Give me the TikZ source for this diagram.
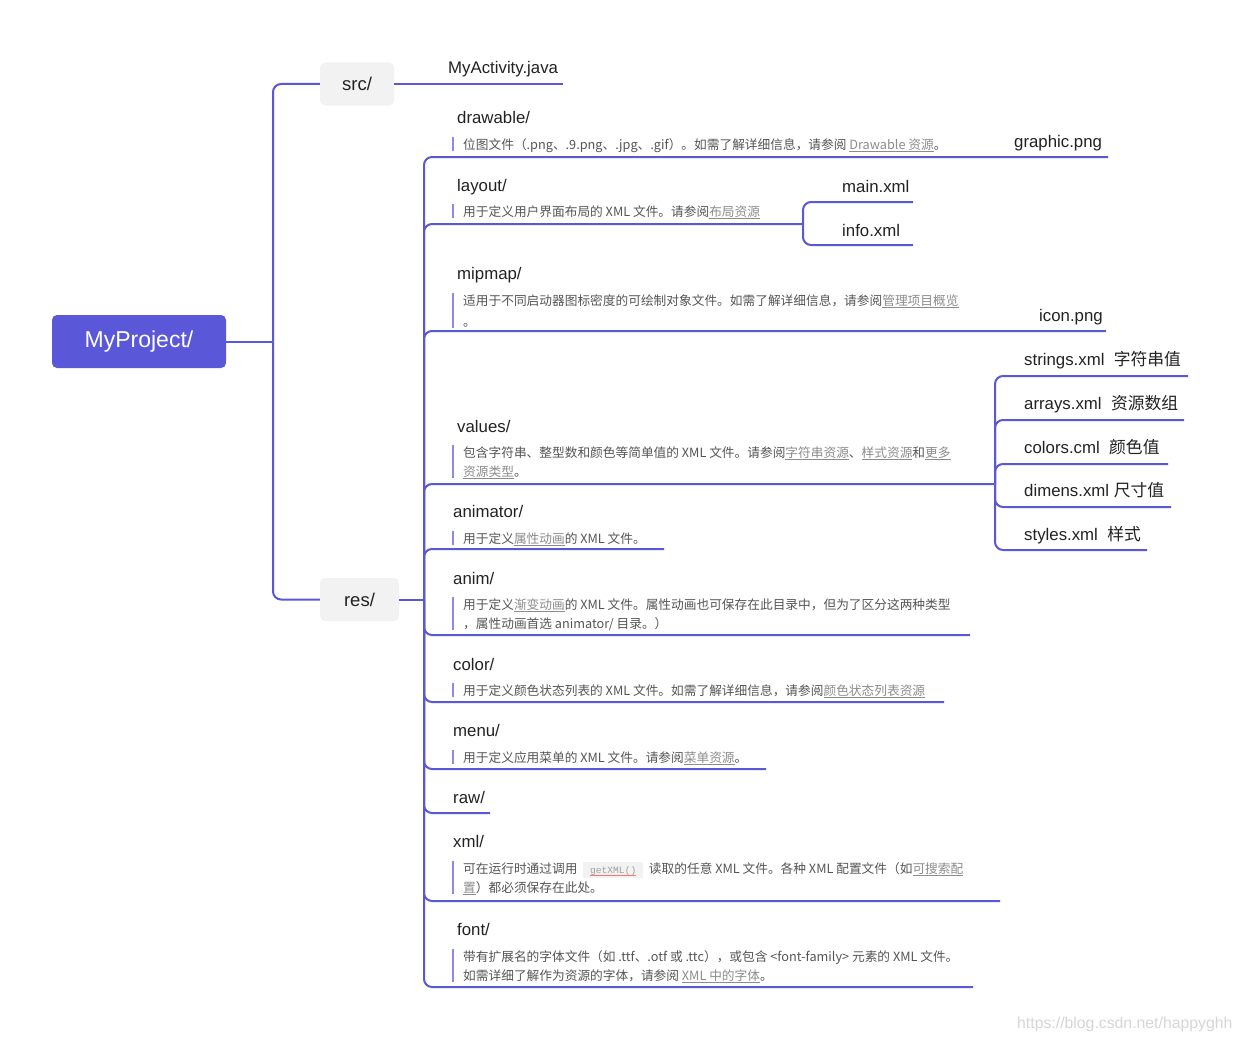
\documentclass[tikz,border=0pt]{standalone}
\usepackage{fontspec}
\setmainfont{Liberation Sans}
\newfontfamily\cjk{Noto Sans CJK SC}
\newfontfamily\mono{Liberation Mono}
\definecolor{brand}{HTML}{5A57D8}
\definecolor{ink}{HTML}{222222}
\definecolor{notegray}{HTML}{555555}
\definecolor{linkgray}{HTML}{8C8C8C}
\definecolor{barpurple}{HTML}{8D8BE6}
\definecolor{boxgray}{HTML}{F2F2F2}
\definecolor{codebg}{HTML}{F2F2F2}
\definecolor{codegray}{HTML}{A0A0A0}
\definecolor{wm}{HTML}{D6D6D6}
\newcommand\fsz[1]{\fontsize{#1}{#1}\selectfont}
\newcommand\lk[1]{{\color{linkgray}\setbox0\hbox{#1}\rlap{\rule[-2.6pt]{\wd0}{0.6pt}}\box0}}
\newcommand\codebox[1]{{\setlength\fboxsep{0pt}\colorbox{codebg}{\hspace{7pt}\rule[-4.5pt]{0pt}{16pt}{\mono\fsz{9.6}\setbox0\hbox{\color{codegray}#1}\rlap{\color{red!55}\rule[-2pt]{\wd0}{0.5pt}}\box0}\hspace{7pt}}}}
\tikzset{
  ttl/.style={anchor=base west, inner sep=0pt, text=ink, font=\fsz{16.8}},
  nt/.style={anchor=base west, inner sep=0pt, text=notegray, font=\cjk\fsz{12.7}},
  cn/.style={draw=brand, line width=2pt, rounded corners=8pt},
  nbar/.style={draw=barpurple, line width=2pt},
  dirbox/.style={fill=boxgray, rounded corners=5pt, minimum width=74pt, minimum height=43pt, inner sep=0pt, text=ink, font=\fsz{18.5}},
  rootbox/.style={fill=brand, rounded corners=5pt, minimum width=174pt, minimum height=53pt, inner sep=0pt, text=white, font=\fsz{23}}
}
\begin{document}
\begin{tikzpicture}[x=1pt,y=-1pt]
\useasboundingbox (0,0) rectangle (1240,1041);
\fill[white] (0,0) rectangle (1240,1041);

% main boxes
\node[rootbox] (root) at (139,341.5) {\raisebox{-1.5pt}{MyProject/}};
\node[dirbox] (src) at (357,84) {src/};
\node[dirbox, minimum width=79pt] (res) at (359.5,599.5) {res/};

\coordinate (rootj) at (273,341.5);
\coordinate (resj) at (424,599.5);
\draw[cn] (root.east) -- (rootj);
\draw[cn] (rootj) |- (src.west);
\draw[cn] (rootj) |- (res.west);
\draw[cn] (res.east) -- (resj);

% src child
\coordinate (e-ma) at (563,84);
\draw[cn] (src.east) -- (e-ma);
\node[ttl] (t-ma) at (448,74) {MyActivity.java};

% res children end points
\coordinate (e-drawable) at (1108,157);
\coordinate (lj) at (803,224);
\coordinate (e-mipmap) at (1106,331);
\coordinate (vj) at (995,484);
\coordinate (e-animator) at (664,549);
\coordinate (e-anim) at (970,635);
\coordinate (e-color) at (944,702);
\coordinate (e-menu) at (766,769);
\coordinate (e-raw) at (490,813);
\coordinate (e-xml) at (1000,901);
\coordinate (e-font) at (973,987);
\foreach \e in {e-drawable,lj,e-mipmap,vj,e-animator,e-anim,e-color,e-menu,e-raw,e-xml,e-font}
  \draw[cn] (resj) |- (\e);

% layout children
\coordinate (e-main) at (913,202);
\coordinate (e-info) at (913,245);
\draw[cn] (lj) |- (e-main);
\draw[cn] (lj) |- (e-info);

% values children
\coordinate (e-strings) at (1188,376);
\coordinate (e-arrays) at (1184,420);
\coordinate (e-colors) at (1168,464);
\coordinate (e-dimens) at (1171,507);
\coordinate (e-styles) at (1147,550);
\foreach \e in {e-strings,e-arrays,e-colors,e-dimens,e-styles}
  \draw[cn] (vj) |- (\e);

% titles
\node[ttl] (t-drawable) at (457,124) {drawable/};
\node[ttl] (t-layout) at (457,191) {layout/};
\node[ttl] (t-mipmap) at (457,279) {mipmap/};
\node[ttl] (t-values) at (457,432) {values/};
\node[ttl] (t-animator) at (453,517) {animator/};
\node[ttl] (t-anim) at (453,584) {anim/};
\node[ttl] (t-color) at (453,670) {color/};
\node[ttl] (t-menu) at (453,736) {menu/};
\node[ttl] (t-raw) at (453,803) {raw/};
\node[ttl] (t-xml) at (453,847) {xml/};
\node[ttl] (t-font) at (457,935) {font/};

% right-hand files
\node[ttl] (f-graphic) at (1014,147) {graphic.png};
\node[ttl] (f-main) at (842,192) {main.xml};
\node[ttl] (f-info) at (842,236) {info.xml};
\node[ttl] (f-icon) at (1039,321) {icon.png};
\node[ttl] (f-strings) at (1024,365) {strings.xml\ \ {\cjk 字符串值}};
\node[ttl] (f-arrays) at (1024,409) {arrays.xml\ \ {\cjk 资源数组}};
\node[ttl] (f-colors) at (1024,453) {colors.cml\ \ {\cjk 颜色值}};
\node[ttl] (f-dimens) at (1024,496) {dimens.xml {\cjk 尺寸值}};
\node[ttl] (f-styles) at (1024,540) {styles.xml\ \ {\cjk 样式}};

% note bars
\draw[nbar] (453,137) -- (453,151);
\draw[nbar] (453,204) -- (453,218);
\draw[nbar] (453,293) -- (453,328);
\draw[nbar] (453,445) -- (453,478);
\draw[nbar] (453,531) -- (453,545);
\draw[nbar] (453,597) -- (453,630);
\draw[nbar] (453,683) -- (453,697);
\draw[nbar] (453,750) -- (453,764);
\draw[nbar] (453,861) -- (453,894);
\draw[nbar] (453,949) -- (453,982);

% notes
\node[nt] (n-drawable) at (463,149) {位图文件（.png、.9.png、.jpg、.gif）。如需了解详细信息，请参阅 \lk{Drawable 资源}。};
\node[nt] (n-layout) at (463,216) {用于定义用户界面布局的 XML 文件。请参阅\lk{布局资源}};
\node[nt] (n-mipmap-a) at (463,305) {适用于不同启动器图标密度的可绘制对象文件。如需了解详细信息，请参阅\lk{管理项目概览}};
\node[nt] (n-mipmap-b) at (463,326) {。};
\node[nt] (n-values-a) at (463,457) {包含字符串、整型数和颜色等简单值的 XML 文件。请参阅\lk{字符串资源}、\lk{样式资源}和\lk{更多}};
\node[nt] (n-values-b) at (463,476) {\lk{资源类型}。};
\node[nt] (n-animator) at (463,543) {用于定义\lk{属性动画}的 XML 文件。};
\node[nt] (n-anim-a) at (463,609) {用于定义\lk{渐变动画}的 XML 文件。属性动画也可保存在此目录中，但为了区分这两种类型};
\node[nt] (n-anim-b) at (463,628) {，属性动画首选 animator/ 目录。）};
\node[nt] (n-color) at (463,695) {用于定义颜色状态列表的 XML 文件。如需了解详细信息，请参阅\lk{颜色状态列表资源}};
\node[nt] (n-menu) at (463,762) {用于定义应用菜单的 XML 文件。请参阅\lk{菜单资源}。};
\node[nt] (n-xml-a) at (463,873) {可在运行时通过调用\ \ \codebox{getXML()}\ \ 读取的任意 XML 文件。各种 XML 配置文件（如\lk{可搜索配}};
\node[nt] (n-xml-b) at (463,892) {\lk{置}）都必须保存在此处。};
\node[nt] (n-font-a) at (463,961) {带有扩展名的字体文件（如 .ttf、.otf 或 .ttc），或包含 <font-family> 元素的 XML 文件。};
\node[nt] (n-font-b) at (463,980) {如需详细了解作为资源的字体，请参阅 \lk{XML 中的字体}。};

% watermark
\node[anchor=base west, inner sep=0pt, text=wm, font=\fsz{15.8}] (wmk) at (1017,1028) {https://blog.csdn.net/happyghh};
\end{tikzpicture}
\end{document}
